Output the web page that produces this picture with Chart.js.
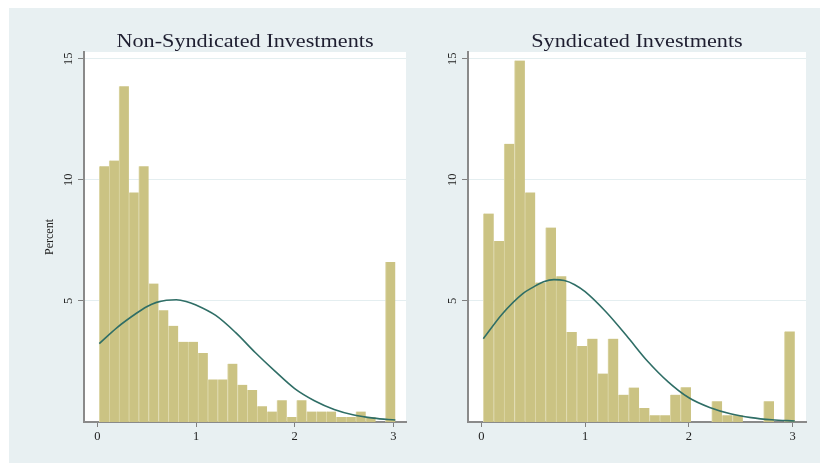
<!DOCTYPE html>
<html>
<head>
<meta charset="utf-8">
<script src="https://cdn.jsdelivr.net/npm/chart.js@4.4.1/dist/chart.umd.min.js"></script>
<style>
  body { margin: 0; background: #fff; width: 820px; height: 463px; overflow: hidden; position: relative; }
  #bg { position: absolute; left: 9px; top: 8px; width: 811px; height: 455px; background: #e8f0f2; }
  canvas { position: absolute; top: 0; }
  #left { left: 0; }
  #right { left: 420px; }
</style>
</head>
<body>
<div id="bg"></div>
<canvas id="left" width="420" height="463"></canvas>
<canvas id="right" width="400" height="463"></canvas>
<script>
// histogram bins: 30 bins of width 0.1 starting at 0.02
const binStart = 0.02;
const binWidth = 0.1;
const binCenters = [];
for (let i = 0; i < 30; i++) binCenters.push(binStart + binWidth * (i + 0.5));

// percent per bin
const nonSyndPct = [10.56, 10.8, 13.87, 9.48, 10.56, 5.72, 4.61, 3.97, 3.31, 3.31,
                    2.85, 1.76, 1.76, 2.41, 1.54, 1.32, 0.65, 0.43, 0.9, 0.21,
                    0.9, 0.43, 0.43, 0.43, 0.21, 0.21, 0.43, 0.21, 0, 6.61];
const syndPct = [8.61, 7.47, 11.49, 14.93, 9.48, 5.76, 8.03, 6.02, 3.72, 3.14,
                 3.44, 2.0, 3.44, 1.13, 1.42, 0.58, 0.28, 0.28, 1.13, 1.43,
                 0, 0, 0.86, 0.28, 0.28, 0, 0, 0.86, 0, 3.74];

// normal density overlay, read at these x positions
const curveX = [0.02, 0.2, 0.4, 0.5, 0.6, 0.7, 0.8, 0.9, 1.0, 1.2, 1.4, 1.6, 1.8, 2.0, 2.2, 2.4, 2.6, 2.8, 3.02];
const nonSyndCurve = [3.24, 3.9, 4.5, 4.76, 4.94, 5.03, 5.05, 4.98, 4.83, 4.4, 3.7, 2.87, 2.1, 1.38, 0.88, 0.52, 0.29, 0.16, 0.08];
const syndCurve = [3.44, 4.45, 5.3, 5.57, 5.79, 5.88, 5.84, 5.67, 5.38, 4.55, 3.56, 2.52, 1.66, 1.0, 0.6, 0.34, 0.18, 0.09, 0.04];

const xTicks = [0, 1, 2, 3];
const yTicks = [5, 10, 15];

const serif = '"Liberation Serif", "Times New Roman", serif';

// white plot region, panel title and rotated y labels (Stata style)
const panelDecor = {
    id: 'panelDecor',
    beforeDraw(chart) {
        const { ctx, chartArea: a } = chart;
        ctx.save();
        ctx.fillStyle = '#ffffff';
        ctx.fillRect(a.left, a.top, a.right - a.left, a.bottom - a.top);
        ctx.restore();
    },
    afterDraw(chart, args, opts) {
        const { ctx, chartArea: a } = chart;
        const y = chart.scales.y;
        ctx.save();
        ctx.fillStyle = '#1e1e30';
        ctx.font = '18.5px ' + serif;
        ctx.textAlign = 'center';
        ctx.textBaseline = 'alphabetic';
        ctx.translate((a.left + a.right) / 2, 47);
        ctx.scale(1.2, 1);
        ctx.fillText(opts.text, 0, 0);
        ctx.restore();

        ctx.save();
        ctx.font = '12.5px ' + serif;
        ctx.fillStyle = '#222';
        ctx.textAlign = 'center';
        ctx.textBaseline = 'alphabetic';
        y.ticks.forEach(t => {
            const py = y.getPixelForValue(t.value);
            ctx.save();
            ctx.translate(a.left - 12, py);
            ctx.rotate(-Math.PI / 2);
            ctx.fillText(String(t.value), 0, 0);
            ctx.restore();
        });
        ctx.restore();
    }
};

function makeChart(canvas, title, pct, curve, opt) {
    return new Chart(canvas, {
        type: 'bar',
        data: {
            datasets: [
                {
                    type: 'line',
                    data: curveX.map((x, i) => ({ x: x, y: curve[i] })),
                    borderColor: '#2f6e66',
                    borderWidth: 1.6,
                    pointRadius: 0,
                    cubicInterpolationMode: 'monotone',
                    fill: false,
                    order: 0
                },
                {
                    type: 'bar',
                    data: binCenters.map((x, i) => ({ x: x, y: pct[i] })),
                    backgroundColor: '#cbc383',
                    borderColor: '#ddd7a8',
                    borderWidth: { left: 1, right: 0, top: 0, bottom: 0 },
                    borderSkipped: false,
                    barPercentage: 1,
                    categoryPercentage: 1,
                    order: 1
                }
            ]
        },
        options: {
            responsive: false,
            animation: false,
            layout: { padding: { left: opt.padLeft, right: 14, top: 52, bottom: 0 } },
            plugins: {
                legend: { display: false },
                tooltip: { enabled: false },
                panelDecor: { text: title }
            },
            scales: {
                x: {
                    type: 'linear',
                    min: opt.xMin,
                    max: 3.128,
                    offset: false,
                    afterBuildTicks: s => { s.ticks = xTicks.map(v => ({ value: v })); },
                    afterFit: s => { s.height = 41; },
                    grid: { drawOnChartArea: false, drawTicks: true, tickLength: 5, tickColor: '#808080', offset: false },
                    border: { color: '#8a8a8a', width: 2 },
                    ticks: { font: { family: serif, size: 12.5 }, color: '#222', padding: 2, maxRotation: 0, autoSkip: false }
                },
                y: {
                    min: 0,
                    max: 15.28,
                    afterBuildTicks: s => { s.ticks = yTicks.map(v => ({ value: v })); },
                    afterFit: s => { s.width = opt.yWidth; },
                    grid: { color: '#e4eef0', tickColor: '#808080', tickLength: 6, drawTicks: true },
                    border: { color: '#8a8a8a', width: 2 },
                    ticks: { display: false },
                    title: {
                        display: opt.yTitle,
                        text: 'Percent',
                        font: { family: serif, size: 12 },
                        color: '#222',
                        padding: { top: 5, bottom: 0 }
                    }
                }
            }
        },
        plugins: [panelDecor]
    });
}

makeChart(document.getElementById('left'), 'Non-Syndicated Investments', nonSyndPct, nonSyndCurve,
    { padLeft: 38, yWidth: 46, xMin: -0.135, yTitle: true });
makeChart(document.getElementById('right'), 'Syndicated Investments', syndPct, syndCurve,
    { padLeft: 0, yWidth: 48, xMin: -0.128, yTitle: false });
</script>
</body>
</html>
